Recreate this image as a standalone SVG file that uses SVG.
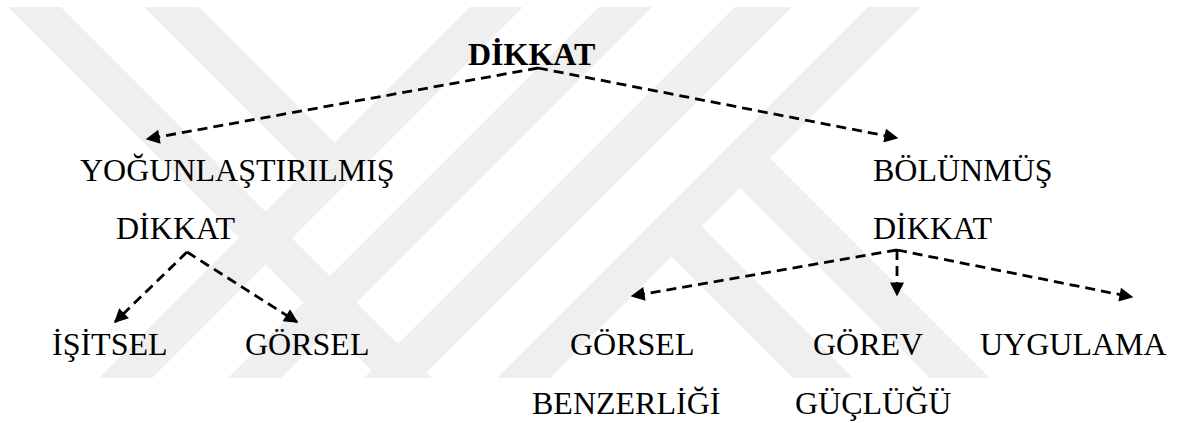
<svg xmlns="http://www.w3.org/2000/svg" width="1189" height="423" viewBox="0 0 1189 423">
<style>
.t{font-family:"Liberation Serif","Times New Roman",serif;font-size:32px;fill:#000}
.b{font-weight:bold}
.wm{fill:#efefef}
.c{fill:none;stroke:#000;stroke-width:2.8;stroke-dasharray:10 6;marker-end:url(#ah)}
</style>
<defs>
<marker id="ah" viewBox="0 0 10 10" refX="9" refY="5" markerWidth="18" markerHeight="14" markerUnits="userSpaceOnUse" orient="auto">
<path d="M0,0 L10,5 L0,10 z" fill="#000"/>
</marker>
</defs>
<rect width="1189" height="423" fill="#fff"/>
<g id="watermark" class="wm">
<polygon points="8,7 61,7 432,378 379,378"/>
<polygon points="144,7 199,7 334.5,142.5 333.5,196.5"/>
<polygon points="470,7 523,7 152,378 99,378"/>
<polygon points="599,7 652,7 281,378 228,378"/>
<polygon points="735,7 792,7 421,378 364,378"/>
<polygon points="868,7 921,7 550,378 497,378"/>
<polygon points="645,230 675,200 853,378 793,378"/>
<polygon points="713.5,161.5 743.5,131.5 990,378 930,378"/>
</g>
<g id="connectors">
<path class="c" d="M538,68 L147,139"/>
<path class="c" d="M538,68 L897,138"/>
<path class="c" d="M187,252 L115,322"/>
<path class="c" d="M187,252 L297,322"/>
<path class="c" d="M897,250 L632,296"/>
<path class="c" d="M897,250 L897,295"/>
<path class="c" d="M897,250 L1132,297"/>
</g>
<g id="n-dikkat"><text class="t b" x="468" y="65">DİKKAT</text></g>
<g id="n-yogun"><text class="t" x="80" y="181">YOĞUNLAŞTIRILMIŞ</text><text class="t" x="116" y="239">DİKKAT</text></g>
<g id="n-bolunmus"><text class="t" x="873" y="181">BÖLÜNMÜŞ</text><text class="t" x="873" y="239">DİKKAT</text></g>
<g id="n-isitsel"><text class="t" x="52" y="355">İŞİTSEL</text></g>
<g id="n-gorsel"><text class="t" x="245" y="355">GÖRSEL</text></g>
<g id="n-gorsel-benz"><text class="t" x="570" y="355">GÖRSEL</text><text class="t" x="532" y="414">BENZERLİĞİ</text></g>
<g id="n-gorev"><text class="t" x="813" y="355">GÖREV</text><text class="t" x="795" y="414">GÜÇLÜĞÜ</text></g>
<g id="n-uygulama"><text class="t" x="980" y="355">UYGULAMA</text></g>
</svg>
